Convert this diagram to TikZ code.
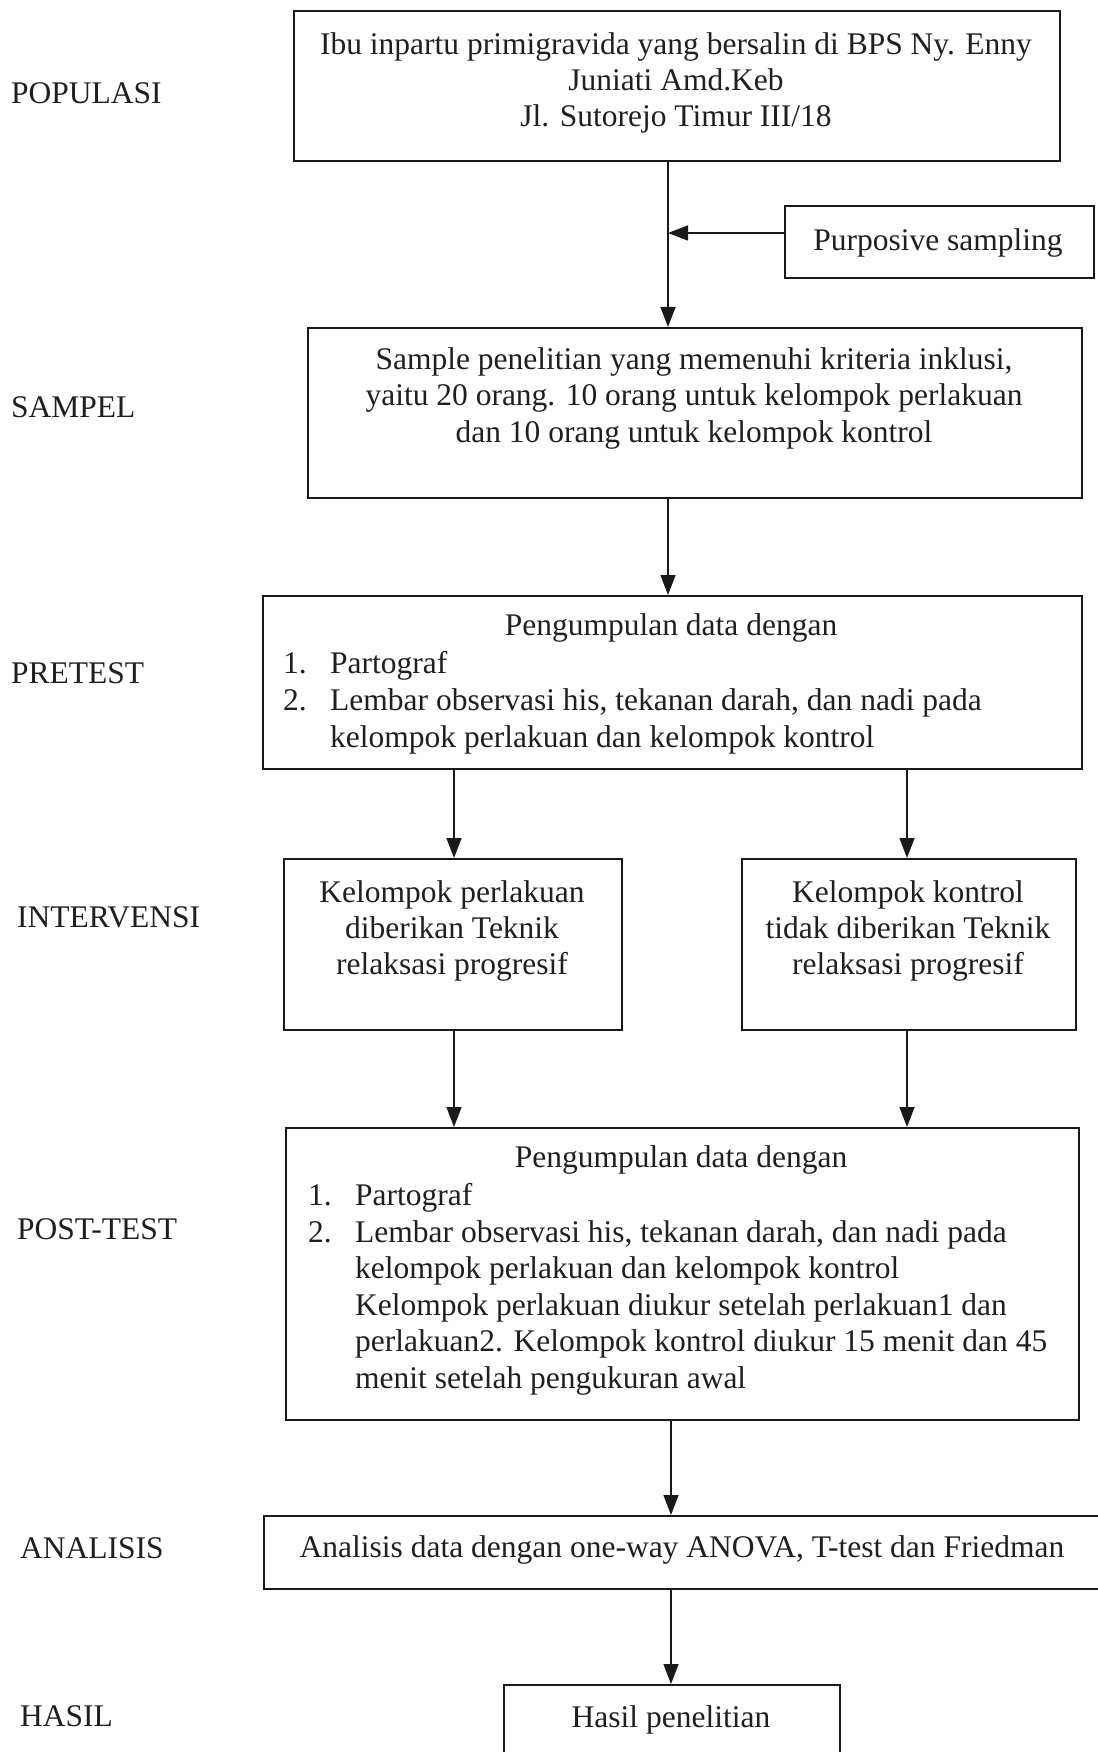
\documentclass[tikz,border=0pt]{standalone}
\usepackage{fontspec}
\setmainfont{Liberation Serif}
\usetikzlibrary{arrows.meta}
\tikzset{
  boxnode/.style={draw=black!90, line width=1.8pt, inner sep=0pt, anchor=north west},
  arr/.style={draw=black!90, line width=1.4pt, -{Triangle[length=20pt,width=15pt]}},
  txt/.style={inner sep=0pt, anchor=base, text=black!88},
  txtl/.style={inner sep=0pt, anchor=base west, text=black!88},
  lbl/.style={inner sep=0pt, anchor=west, text=black!88},
}
\begin{document}
\begin{tikzpicture}[x=1pt,y=-1pt,font=\fontsize{31.5}{37}\selectfont]
\useasboundingbox (0,0) rectangle (1097,1752);
% boxes
\node[boxnode, minimum width=766pt, minimum height=150pt] (pop) at (293,10) {};
\node[boxnode, minimum width=309pt, minimum height=72pt] (purp) at (784,205) {};
\node[boxnode, minimum width=774pt, minimum height=170pt] (samp) at (307,327) {};
\node[boxnode, minimum width=819pt, minimum height=173pt] (pre) at (262,595) {};
\node[boxnode, minimum width=338pt, minimum height=171pt] (intl) at (283,858) {};
\node[boxnode, minimum width=334pt, minimum height=171pt] (intr) at (741,858) {};
\node[boxnode, minimum width=793pt, minimum height=292pt] (post) at (285,1127) {};
\node[boxnode, minimum width=845pt, minimum height=73pt] (ana) at (263,1515) {};
\node[boxnode, minimum width=336pt, minimum height=90pt] (has) at (503,1684) {};
% left labels
\node[lbl] (lpop) at (11,93) {POPULASI};
\node[lbl] (lsam) at (11,407) {SAMPEL};
\node[lbl] (lpre) at (11,673) {PRETEST};
\node[lbl] (lint) at (17,917) {INTERVENSI};
\node[lbl] (lpost) at (17,1229) {POST-TEST};
\node[lbl] (lana) at (20,1548) {ANALISIS};
\node[lbl] (lhas) at (20,1716) {HASIL};
% texts
\node[txt] (pop1) at (676,55) {Ibu inpartu primigravida yang bersalin di BPS Ny. Enny};
\node[txt] (pop2) at (676,91) {Juniati Amd.Keb};
\node[txt] (pop3) at (676,127) {Jl. Sutorejo Timur III/18};
\node[txt] (purpt) at (938,251) {Purposive sampling};
\node[txt] (sam1) at (694,369) {Sample penelitian yang memenuhi kriteria inklusi,};
\node[txt] (sam2) at (694,405) {yaitu 20 orang. 10 orang untuk kelompok perlakuan};
\node[txt] (sam3) at (694,442) {dan 10 orang untuk kelompok kontrol};
\node[txt] (pre0) at (671,635) {Pengumpulan data dengan};
\node[txtl] (pren1) at (283,673) {1.};
\node[txtl] (pre1) at (330,673) {Partograf};
\node[txtl] (pren2) at (283,710) {2.};
\node[txtl] (pre2) at (330,710) {Lembar observasi his, tekanan darah, dan nadi pada};
\node[txtl] (pre3) at (330,747) {kelompok perlakuan dan kelompok kontrol};
\node[txt] (il1) at (452,902) {Kelompok perlakuan};
\node[txt] (il2) at (452,938) {diberikan Teknik};
\node[txt] (il3) at (452,974) {relaksasi progresif};
\node[txt] (ir1) at (908,902) {Kelompok kontrol};
\node[txt] (ir2) at (908,938) {tidak diberikan Teknik};
\node[txt] (ir3) at (908,974) {relaksasi progresif};
\node[txt] (post0) at (681,1167) {Pengumpulan data dengan};
\node[txtl] (postn1) at (308,1205) {1.};
\node[txtl] (post1) at (355,1205) {Partograf};
\node[txtl] (postn2) at (308,1242) {2.};
\node[txtl] (post2) at (355,1242) {Lembar observasi his, tekanan darah, dan nadi pada};
\node[txtl] (post3) at (355,1278) {kelompok perlakuan dan kelompok kontrol};
\node[txtl] (post4) at (355,1315) {Kelompok perlakuan diukur setelah perlakuan1 dan};
\node[txtl] (post5) at (355,1351) {perlakuan2. Kelompok kontrol diukur 15 menit dan 45};
\node[txtl] (post6) at (355,1388) {menit setelah pengukuran awal};
\node[txt] (anat) at (682,1557) {Analisis data dengan one-way ANOVA, T-test dan Friedman};
\node[txt] (hast) at (671,1727) {Hasil penelitian};
% connector columns
\coordinate (cm) at (668,0);
\coordinate (cl) at (454,0);
\coordinate (cr) at (907,0);
\coordinate (cb) at (671,0);
\coordinate (pj) at (668,233);
% connectors
\draw[arr] (cm |- pop.south) -- (cm |- samp.north);
\draw[arr] (pj -| purp.west) -- (pj);
\draw[arr] (cm |- samp.south) -- (cm |- pre.north);
\draw[arr] (cl |- pre.south) -- (cl |- intl.north);
\draw[arr] (cr |- pre.south) -- (cr |- intr.north);
\draw[arr] (cl |- intl.south) -- (cl |- post.north);
\draw[arr] (cr |- intr.south) -- (cr |- post.north);
\draw[arr] (cb |- post.south) -- (cb |- ana.north);
\draw[arr] (cb |- ana.south) -- (cb |- has.north);
\end{tikzpicture}
\end{document}
